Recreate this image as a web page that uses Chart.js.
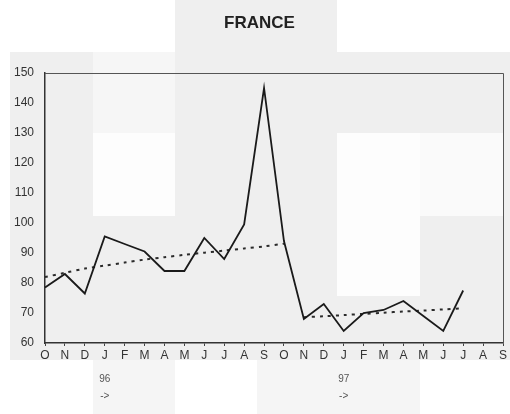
<!DOCTYPE html>
<html>
<head>
<meta charset="utf-8">
<script src="https://cdn.jsdelivr.net/npm/chart.js@4/dist/chart.umd.min.js"></script>
<style>
  html, body { margin: 0; padding: 0; background: #ffffff; }
  #wrap { width: 510px; height: 414px; }
</style>
</head>
<body>
<div id="wrap"><canvas id="c" width="510" height="414"></canvas></div>
<script>
const months = ['O','N','D','J','F','M','A','M','J','J','A','S','O','N','D','J','F','M','A','M','J','J','A','S'];
const yearLabels = ['','','',['96','->'],'','','','','','','','','','','',['97','->'],'','','','','','','',''];
const seriesValues = [78.5, 83, 76.5, 95.5, 93, 90.5, 84, 84, 95, 88, 99.5, 145, 94, 68, 73, 64, 70, 71, 74, 69, 64, 77.5, null, null];
const trendFirst = [82, 83.4, 84.8, 85.8, 86.8, 87.8, 88.6, 89.4, 90.1, 90.8, 91.5, 92.2, 93.1, null, null, null, null, null, null, null, null, null, null, null];
const trendSecond = [null, null, null, null, null, null, null, null, null, null, null, null, null, 68.6, 68.9, 69.3, 69.7, 70.1, 70.5, 70.8, 71.2, 71.6, null, null];
const yTicks = [60, 70, 80, 90, 100, 110, 120, 130, 140, 150];

const FONT = "'Liberation Sans', Arial, sans-serif";

const bgPlugin = {
  id: 'bgBlocks',
  beforeDraw(chart) {
    const ctx = chart.ctx;
    ctx.save();
    ctx.fillStyle = '#ffffff';
    ctx.fillRect(0, 0, 510, 414);
    ctx.fillStyle = '#efefef';
    ctx.fillRect(175, 0, 162, 52);
    ctx.fillRect(10, 52, 500, 308);
    ctx.fillStyle = '#f6f6f6';
    ctx.fillRect(93, 52, 82, 81);
    ctx.fillStyle = '#fdfdfd';
    ctx.fillRect(93, 133, 82, 83);
    ctx.fillRect(337, 133, 83, 163);
    ctx.fillStyle = '#fafafa';
    ctx.fillRect(420, 133, 83, 83);
    ctx.fillStyle = '#f5f5f5';
    ctx.fillRect(93, 360, 82, 54);
    ctx.fillRect(257, 360, 163, 54);
    ctx.restore();
  },
  afterDatasetsDraw(chart) {
    const a = chart.chartArea;
    const ctx = chart.ctx;
    ctx.save();
    ctx.strokeStyle = '#555';
    ctx.lineWidth = 1;
    ctx.beginPath();
    ctx.moveTo(a.left, a.top + 0.5);
    ctx.lineTo(a.right + 0.5, a.top + 0.5);
    ctx.lineTo(a.right + 0.5, a.bottom);
    ctx.stroke();
    ctx.restore();
  }
};

new Chart(document.getElementById('c'), {
  type: 'line',
  data: {
    labels: months,
    datasets: [
      {
        data: seriesValues,
        borderColor: '#1a1a1a',
        borderWidth: 1.8,
        pointRadius: 0,
        tension: 0,
        spanGaps: false
      },
      {
        data: trendFirst,
        borderColor: '#2a2a2a',
        borderWidth: 2,
        borderDash: [3, 5],
        pointRadius: 0,
        tension: 0.3
      },
      {
        data: trendSecond,
        borderColor: '#2a2a2a',
        borderWidth: 2,
        borderDash: [3, 5],
        pointRadius: 0,
        tension: 0.3
      }
    ]
  },
  options: {
    responsive: false,
    animation: false,
    layout: { padding: { left: 9, right: 0, top: 0, bottom: 0 } },
    plugins: {
      legend: { display: false },
      tooltip: { enabled: false },
      title: {
        display: true,
        text: 'FRANCE',
        color: '#222',
        font: { family: FONT, size: 17, weight: 'bold' },
        padding: { top: 13, bottom: 39.6 }
      }
    },
    scales: {
      x: {
        type: 'category',
        position: 'bottom',
        weight: 0,
        offset: false,
        afterFit(s) { s.height = 26; },
        grid: { display: true, drawOnChartArea: false, drawTicks: true, tickLength: 3, color: '#444' },
        border: { display: true, color: '#333', width: 1.5 },
        ticks: {
          autoSkip: false, maxRotation: 0, minRotation: 0, padding: 2,
          color: '#333', font: { family: FONT, size: 12 }
        }
      },
      x2: {
        type: 'category',
        position: 'bottom',
        weight: 1,
        labels: yearLabels,
        offset: false,
        afterFit(s) { s.height = 45; },
        grid: { display: false, drawTicks: false },
        border: { display: false },
        ticks: {
          autoSkip: false, maxRotation: 0, minRotation: 0, padding: 2,
          color: '#555', font: { family: FONT, size: 10, lineHeight: '17px' }
        }
      },
      y: {
        min: 60,
        max: 150,
        position: 'left',
        afterFit(s) { s.width = 36; },
        afterBuildTicks(s) { s.ticks = yTicks.map(v => ({ value: v })); },
        grid: { display: false, drawTicks: false },
        border: { display: true, color: '#333', width: 1.5 },
        ticks: {
          padding: 11, color: '#333',
          font: { family: FONT, size: 12 }
        }
      },
      y2: {
        min: 60,
        max: 150,
        position: 'right',
        afterFit(s) { s.width = 7; },
        grid: { display: false, drawTicks: false },
        border: { display: false },
        ticks: { display: false }
      }
    }
  },
  plugins: [bgPlugin]
});
</script>
</body>
</html>
